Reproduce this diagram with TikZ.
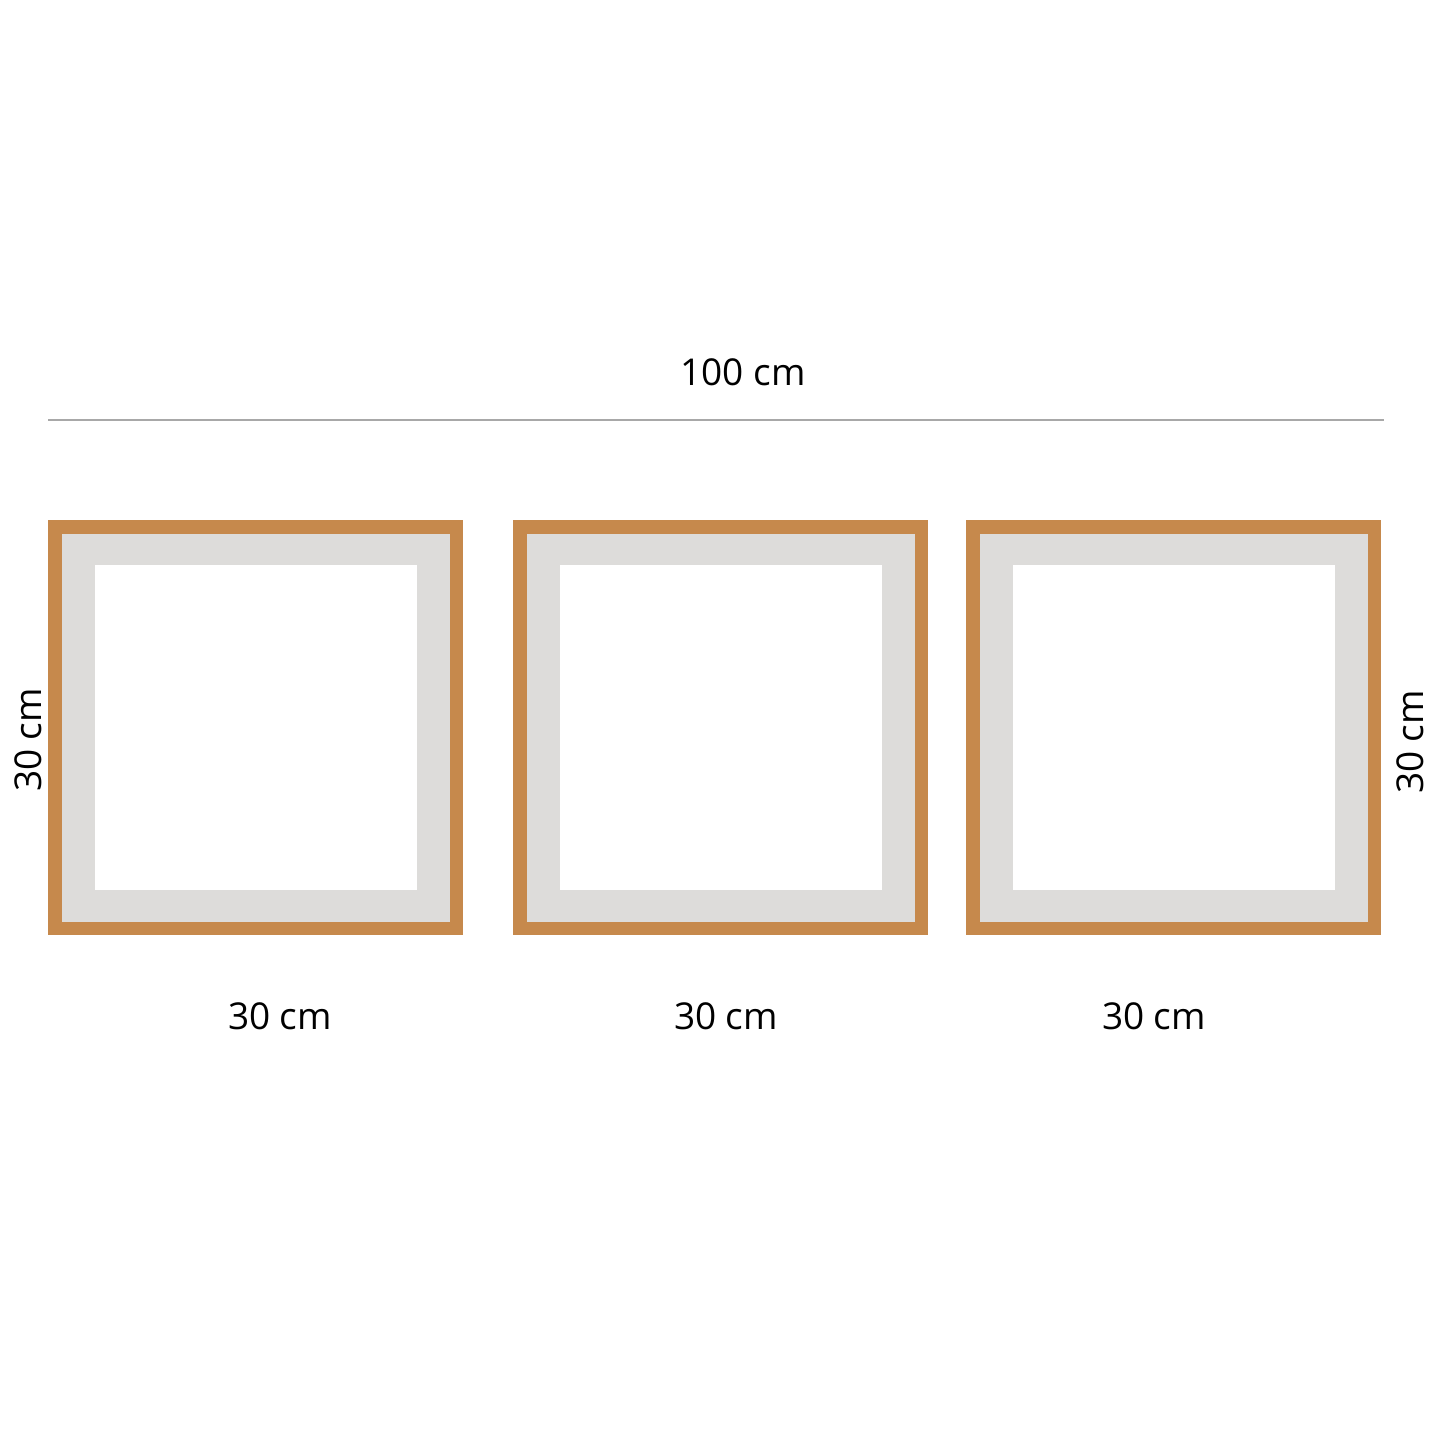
\documentclass[tikz,border=0pt]{standalone}
\usepackage{fontspec}
\setmainfont{Open Sans}
\definecolor{frameor}{HTML}{C6894C}
\definecolor{matgray}{HTML}{DDDCDA}
\definecolor{rulegray}{HTML}{A8A8A8}
\begin{document}
\begin{tikzpicture}[x=1pt,y=-1pt,
  lbl/.style={inner sep=0pt,font=\fontsize{37}{44}\selectfont,text=black}]
\useasboundingbox[fill=white] (0,0) rectangle (1445,1445);
% top dimension rule
\coordinate (rl) at (48,420);
\coordinate (rr) at (1384,420);
\draw[rulegray,line width=1.2pt] (rl) -- (rr);
\node[lbl,anchor=base] (top) at (743,385) {100 cm};
% frames
\foreach \x/\n in {48/f1,513/f2,966/f3}{
  \fill[frameor] (\x,520) rectangle ++(415,415);
  \fill[matgray] (\x+13.5,533.5) rectangle ++(388,388);
  \fill[white] (\x+47,565) rectangle ++(322,325);
}
% labels
\node[lbl,anchor=base] (b1) at (280,1029) {30 cm};
\node[lbl,anchor=base] (b2) at (726,1029) {30 cm};
\node[lbl,anchor=base] (b3) at (1154,1029) {30 cm};
\node[lbl,anchor=base,rotate=90] (l) at (41,740) {30 cm};
\node[lbl,anchor=base,rotate=90] (r) at (1423,742) {30 cm};
\end{tikzpicture}
\end{document}
